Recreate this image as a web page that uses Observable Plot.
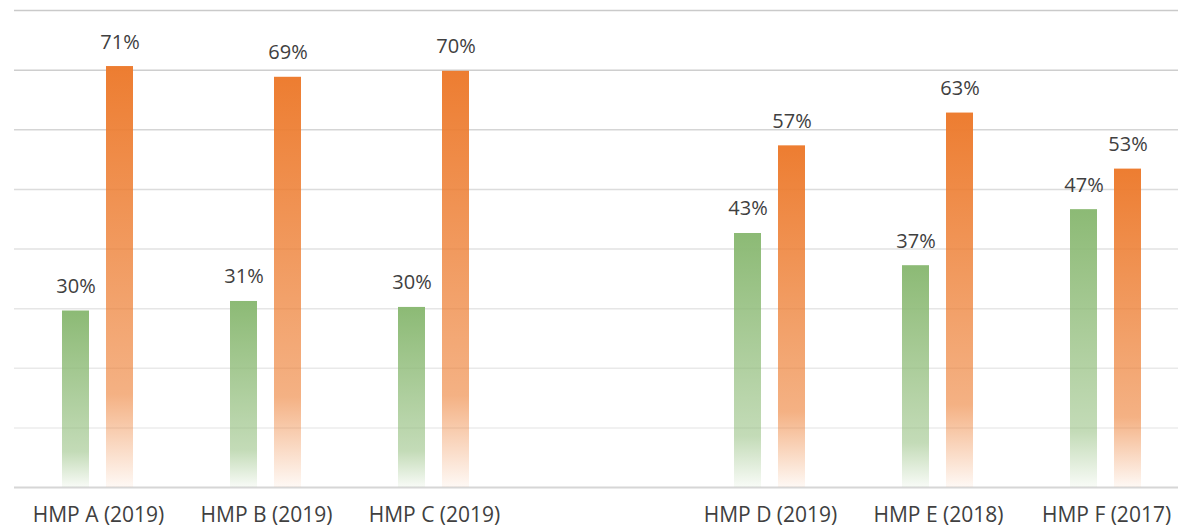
<!DOCTYPE html>
<html>
<head>
<meta charset="utf-8">
<script src="https://cdn.jsdelivr.net/npm/d3@7"></script>
<script src="https://cdn.jsdelivr.net/npm/@observablehq/plot@0.6"></script>
<style>
  html, body { margin: 0; padding: 0; background: #ffffff; overflow: hidden; }
  #chart { width: 1178px; height: 529px; overflow: hidden; }
  #chart svg { max-width: none !important; }
</style>
</head>
<body>
<div id="chart"></div>
<script>
// Data
const categories = ["HMP A (2019)", "HMP B (2019)", "HMP C (2019)", "", "HMP D (2019)", "HMP E (2018)", "HMP F (2017)"];
const seriesNames = ["green", "orange"];
const greenValues = [0.296, 0.312, 0.302, null, 0.426, 0.372, 0.466];
const orangeValues = [0.706, 0.688, 0.698, null, 0.573, 0.628, 0.534];
const gridTicks = [0.1, 0.2, 0.3, 0.4, 0.5, 0.6, 0.7, 0.8];
const gridColors = ["#ececec", "#e9e9e9", "#e6e6e6", "#e2e2e2", "#dcdcdc", "#d5d5d5", "#cecece", "#cacaca"];

// one row per category and series (the empty category keeps its slot with no value)
const rows = [];
categories.forEach((c, i) => {
  rows.push({cat: c, s: "green", v: greenValues[i]});
  rows.push({cat: c, s: "orange", v: orangeValues[i]});
});
const grid = gridTicks.map((t, i) => ({t, color: gridColors[i]}));
const fmt = d3.format(".0%");

const NS = "http://www.w3.org/2000/svg";
function defs() {
  const d = document.createElementNS(NS, "defs");
  const mk = (id, color, stops) => {
    const g = document.createElementNS(NS, "linearGradient");
    g.setAttribute("id", id);
    g.setAttribute("x1", "0"); g.setAttribute("y1", "0");
    g.setAttribute("x2", "0"); g.setAttribute("y2", "1");
    for (const [off, op] of stops) {
      const s = document.createElementNS(NS, "stop");
      s.setAttribute("offset", off);
      s.setAttribute("stop-color", color);
      s.setAttribute("stop-opacity", op);
      g.appendChild(s);
    }
    d.appendChild(g);
  };
  mk("gradGreen", "#8cba75", [[0, 1], [0.8, 0.52], [1, 0.06]]);
  mk("gradOrange", "#ed7d31", [[0, 1], [0.78, 0.6], [1, 0.05]]);
  return d;
}

const chart = Plot.plot({
  width: 1192,
  height: 529,
  marginLeft: 12,
  marginRight: 0,
  marginTop: 10,
  marginBottom: 42,
  style: {fontFamily: "'Open Sans', sans-serif", fontSize: "21px", color: "#404040", background: "#ffffff", maxWidth: "none"},
  facet: {data: rows, x: "cat"},
  fx: {domain: categories, padding: 0, axis: "bottom", tickSize: 0, tickPadding: 20, label: null},
  x: {domain: seriesNames, paddingInner: 0.378, paddingOuter: 1.061, axis: null},
  y: {domain: [0, 0.8], axis: null},
  marks: [
    defs,
    Plot.ruleY(grid, {y: "t", stroke: "color", strokeWidth: 1.5}),
    Plot.ruleY([0], {stroke: "#d6d6d6", strokeWidth: 2}),
    Plot.barY(rows, {filter: d => d.s === "green" && d.v != null, x: "s", y: "v", fill: "url(#gradGreen)"}),
    Plot.barY(rows, {filter: d => d.s === "orange" && d.v != null, x: "s", y: "v", fill: "url(#gradOrange)"}),
    Plot.text(rows, {filter: d => d.v != null, x: "s", y: "v", text: d => fmt(d.v), lineAnchor: "bottom", dy: -18, fill: "#404040", fontSize: 20})
  ]
});
document.getElementById("chart").appendChild(chart);
</script>
</body>
</html>
